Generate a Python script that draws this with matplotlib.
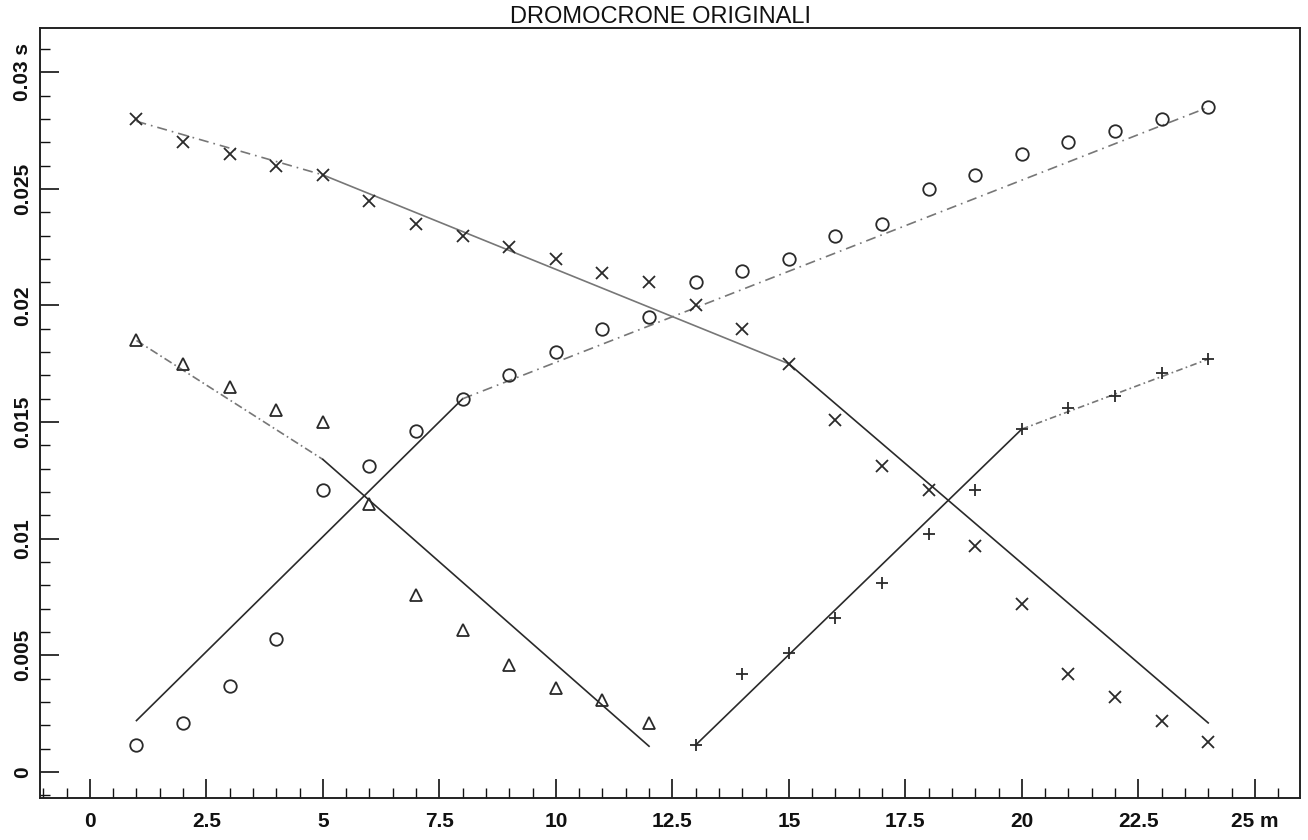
import matplotlib.pyplot as plt
from matplotlib.ticker import MultipleLocator

plt.rcParams['font.family'] = ['Liberation Sans', 'DejaVu Sans']

# geophone positions (m) and first-arrival times (s)
pos_all = list(range(1, 25))
pos_left = list(range(1, 13))
pos_right = list(range(13, 25))

t_cross = [0.0280, 0.0270, 0.0265, 0.0260, 0.0256, 0.0245, 0.0235, 0.0230,
           0.0225, 0.0220, 0.0214, 0.0210, 0.0200, 0.0190, 0.0175, 0.0151,
           0.0131, 0.0121, 0.0097, 0.0072, 0.0042, 0.0032, 0.0022, 0.0013]
t_circle = [0.00115, 0.0021, 0.0037, 0.0057, 0.0121, 0.0131, 0.0146, 0.0160,
            0.0170, 0.0180, 0.0190, 0.0195, 0.0210, 0.0215, 0.0220, 0.0230,
            0.0235, 0.0250, 0.0256, 0.0265, 0.0270, 0.0275, 0.0280, 0.0285]
t_tri = [0.0185, 0.0175, 0.0165, 0.0155, 0.0150, 0.0115, 0.0076, 0.0061,
         0.0046, 0.0036, 0.0031, 0.0021]
t_plus = [0.00115, 0.0042, 0.0051, 0.0066, 0.0081, 0.0102, 0.0121, 0.0147,
          0.0156, 0.0161, 0.0171, 0.0177]

# fitted dromochrone segments (break points)
fit_cross_x = [1, 5, 15, 24]
fit_cross_t = [0.0279, 0.0256, 0.0175, 0.0021]
fit_circle_x = [1, 8, 24]
fit_circle_t = [0.0022, 0.0160, 0.0285]
fit_tri_x = [1, 5, 12]
fit_tri_t = [0.0185, 0.0134, 0.0011]
fit_plus_x = [13, 20, 24]
fit_plus_t = [0.00115, 0.0147, 0.0177]

fig = plt.figure(figsize=(13.08, 8.4), dpi=100)
ax = fig.add_axes([40 / 1308, 42 / 840, 1260 / 1308, 770 / 840])

dark = '#2a2a2a'
light = '#777777'


def draw_fit(xs, ts, styles):
    for i in range(len(xs) - 1):
        ls, col = styles[i]
        ax.plot(xs[i:i + 2], ts[i:i + 2], linestyle=ls, color=col, lw=1.2)


draw_fit(fit_cross_x, fit_cross_t, [((0, (6, 3, 1, 3)), light), ('-', light), ('-', dark)])
draw_fit(fit_circle_x, fit_circle_t, [('-', dark), ((0, (6, 3, 1, 3)), light)])
draw_fit(fit_tri_x, fit_tri_t, [((0, (5, 2, 1, 2)), light), ('-', dark)])
draw_fit(fit_plus_x, fit_plus_t, [('-', dark), ((0, (4, 2, 1, 2)), light)])

ax.plot(pos_all, t_cross, 'x', color=dark, ms=8, mew=1.3)
ax.plot(pos_all, t_circle, 'o', mfc='none', mec=dark, ms=9, mew=1.3)
ax.plot(pos_left, t_tri, '^', mfc='none', mec=dark, ms=9, mew=1.3)
ax.plot(pos_right, t_plus, '+', color=dark, ms=9, mew=1.3)

ax.set_xlim(-1.07, 25.97)
ax.set_ylim(-0.00112, 0.0319)

ax.xaxis.set_major_locator(MultipleLocator(2.5))
ax.xaxis.set_minor_locator(MultipleLocator(0.5))
ax.yaxis.set_major_locator(MultipleLocator(0.005))
ax.yaxis.set_minor_locator(MultipleLocator(0.001))

xticks = [0, 2.5, 5, 7.5, 10, 12.5, 15, 17.5, 20, 22.5, 25]
xlabels = ['0', '2.5', '5', '7.5', '10', '12.5', '15', '17.5', '20', '22.5', '25 m']
ax.set_xticks(xticks)
ax.set_xticklabels(xlabels)
yticks = [0, 0.005, 0.01, 0.015, 0.02, 0.025, 0.03]
ylabels = ['0', '0.005', '0.01', '0.015', '0.02', '0.025', '0.03 s']
ax.set_yticks(yticks)
ax.set_yticklabels(ylabels, rotation=90, va='center')

ax.tick_params(which='major', direction='in', length=14, width=1.2,
               labelsize=15, colors='#111111')
ax.tick_params(which='minor', direction='in', length=7, width=1.0, colors='#111111')
ax.tick_params(axis='x', pad=10)
ax.tick_params(axis='y', pad=6)
for lab in ax.get_xticklabels() + ax.get_yticklabels():
    lab.set_fontweight('bold')

for s in ax.spines.values():
    s.set_linewidth(1.4)
    s.set_color('#222222')

fig.text(0.505, 1 - 23 / 840, 'DROMOCRONE ORIGINALI', ha='center', va='baseline',
         fontsize=17, color='#111111')

fig.savefig('out.png', dpi=100)
